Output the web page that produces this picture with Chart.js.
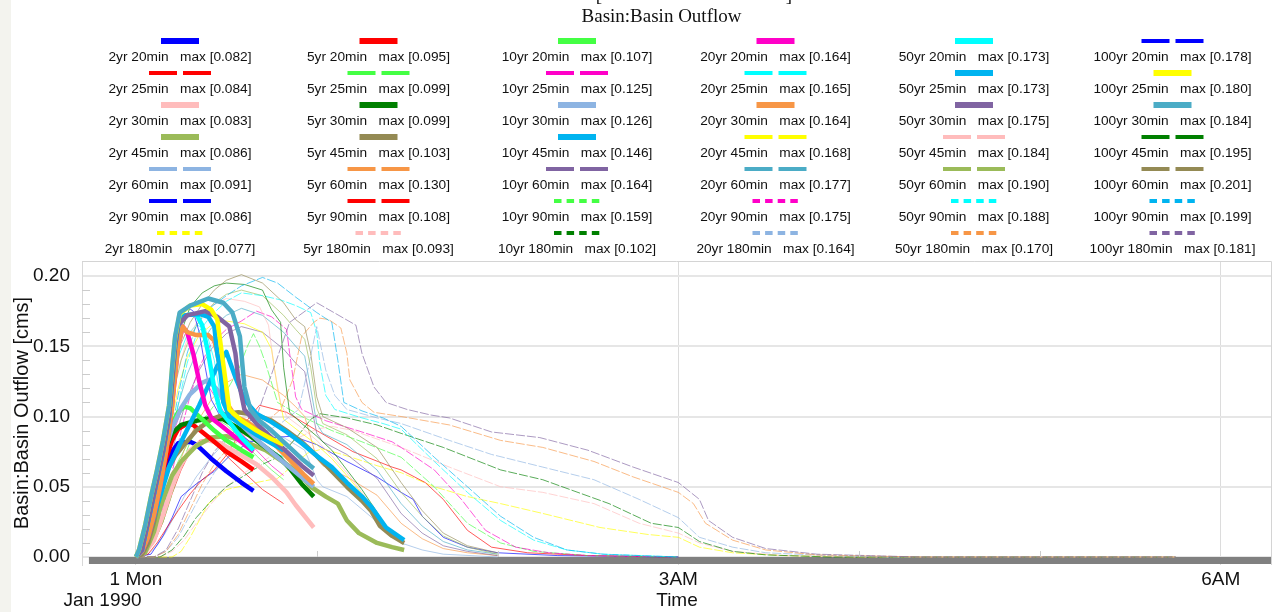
<!DOCTYPE html>
<html lang="en">
<head>
    <meta charset="UTF-8">
    <title>Basin:Basin Outflow</title>
    <script src="https://cdn.jsdelivr.net/npm/chart.js"></script>
    <style>
        html, body {
            margin: 0;
            padding: 0;
        }
        body {
            width: 1273px;
            height: 612px;
            overflow: hidden;
            background: linear-gradient(to right, #f3f3ee 0, #f3f3ee 11px, #ffffff 11px);
        }
        .chart-box {
            position: relative;
            width: 1273px;
            height: 612px;
        }
    </style>
</head>
<body>
    <div class="chart-box">
        <canvas id="outflowChart"></canvas>
    </div>

    <script>
        // storm runs: columns of the legend are return periods, rows are storm durations
        const returnPeriods = ['2yr', '5yr', '10yr', '20yr', '50yr', '100yr'];
        const durations = ['20min', '25min', '30min', '45min', '60min', '90min', '180min'];

        // peak flows as printed in the legend
        const max2yr = ['0.082', '0.084', '0.083', '0.086', '0.091', '0.086', '0.077'];
        const max5yr = ['0.095', '0.099', '0.099', '0.103', '0.130', '0.108', '0.093'];
        const max10yr = ['0.107', '0.125', '0.126', '0.146', '0.164', '0.159', '0.102'];
        const max20yr = ['0.164', '0.165', '0.164', '0.168', '0.177', '0.175', '0.164'];
        const max50yr = ['0.173', '0.173', '0.175', '0.184', '0.190', '0.188', '0.170'];
        const max100yr = ['0.178', '0.180', '0.184', '0.195', '0.201', '0.199', '0.181'];

        // axis ticks (time in minutes after midnight, flow in cms)
        const xTickValues = [0, 180, 360];
        const xTickLabels = ['1 Mon', '3AM', '6AM'];
        const yTickValues = [0, 0.05, 0.10, 0.15, 0.20];

        // outflow hydrographs: [minute, cms]
        const q2yr20 = [[0,0],[2,.002],[4,.01],[6,.025],[8,.045],[10,.062],[12,.075],[14,.081],[18,.082],[20,.08],[22,.076],[25,.07],[30,.061],[35,.053],[39,.047]];
        const q2yr25 = [[0,0],[3,.002],[6,.01],[9,.025],[12,.045],[15,.062],[18,.075],[21,.083],[24,.084],[27,.079],[31,.07],[36,.06],[42,.048],[49,.038]];
        const q2yr30 = [[0,0],[3,.003],[6,.012],[9,.03],[12,.05],[15,.066],[18,.076],[21,.081],[24,.083],[28,.081],[32,.076],[36,.071],[40,.066],[45,.057],[50,.046],[53,.037],[56,.029],[59,.021]];
        const q2yr45 = [[0,0],[3,.003],[6,.018],[8,.035],[12,.058],[15,.068],[20,.079],[25,.085],[30,.086],[35,.083],[43,.076],[50,.066],[54,.06],[58,.05],[63,.043],[67,.038],[70,.026],[74,.017],[80,.01],[85,.007],[89,.005]];
        const q2yr60 = [[0,0],[4,.002],[7,.008],[10,.018],[13,.03],[16,.043],[20,.057],[25,.071],[30,.083],[36,.09],[42,.091],[49,.085],[53,.08],[56,.076],[58,.066],[60,.055],[62,.05],[70,.043],[80,.025],[88,.01],[95,.005],[102,.002],[120,0]];
        const q2yr90 = [[0,0],[5,.002],[9,.015],[12,.028],[15,.043],[20,.052],[26,.061],[32,.074],[38,.082],[45,.085],[52,.086],[60,.08],[70,.068],[80,.057],[88,.046],[92,.041],[95,.029],[102,.014],[110,.007],[120,.003],[140,.001],[180,0]];
        const q2yr180 = [[0,0],[12,0],[15,.004],[18,.014],[21,.026],[24,.038],[30,.048],[40,.053],[47,.056],[52,.065],[57,.074],[62,.077],[70,.072],[80,.065],[88,.06],[99,.05],[110,.043],[121,.038],[135,.031],[154,.021],[170,.016],[180,.014],[187,.007],[198,.003],[215,.001],[240,0],[345,0]];

        const q5yr20 = [[0,0],[2,.003],[4,.012],[6,.03],[8,.052],[10,.07],[12,.083],[14,.091],[17,.095],[19,.094],[22,.089],[26,.082],[30,.075],[35,.068],[39,.062]];
        const q5yr25 = [[0,0],[3,.003],[5,.01],[7,.022],[9,.037],[11,.052],[14,.068],[17,.08],[20,.09],[23,.097],[26,.099],[30,.094],[35,.084],[40,.072],[45,.062],[49,.055]];
        const q5yr30 = [[0,0],[2,.004],[4,.015],[6,.035],[8,.06],[10,.078],[12,.088],[15,.094],[20,.097],[25,.099],[29,.098],[33,.093],[38,.086],[43,.078],[48,.07],[51,.063],[55,.052],[59,.043]];
        const q5yr45 = [[0,0],[2,.002],[4,.01],[6,.025],[8,.045],[10,.06],[13,.072],[16,.08],[20,.09],[25,.098],[30,.102],[34,.103],[40,.101],[45,.097],[50,.09],[55,.082],[60,.072],[65,.061],[70,.05],[75,.04],[78,.033],[81,.022],[85,.015],[89,.01]];
        const q5yr60 = [[0,0],[3,.003],[5,.008],[7,.018],[9,.03],[11,.044],[13,.058],[16,.076],[20,.095],[25,.112],[30,.124],[35,.13],[42,.126],[49,.115],[53,.107],[56,.1],[58,.085],[60,.07],[62,.065],[70,.057],[80,.044],[88,.024],[95,.013],[102,.006],[110,.003],[120,.001]];
        const q5yr90 = [[0,0],[4,.002],[7,.01],[10,.02],[14,.033],[18,.045],[22,.055],[26,.062],[31,.075],[36,.095],[41,.108],[50,.103],[60,.09],[72,.075],[85,.064],[88,.062],[96,.053],[102,.041],[110,.019],[118,.007],[130,.003],[150,.001],[180,0]];
        const q5yr180 = [[0,0],[8,0],[12,.004],[16,.012],[20,.024],[25,.038],[30,.05],[36,.06],[42,.068],[48,.076],[54,.085],[60,.091],[65,.093],[72,.09],[80,.084],[88,.078],[104,.064],[121,.05],[135,.046],[152,.038],[167,.024],[180,.017],[187,.01],[198,.004],[215,.001],[240,0],[345,0]];

        const q10yr20 = [[0,0],[2,.004],[4,.015],[6,.035],[8,.06],[10,.08],[12,.095],[14,.103],[16,.107],[18,.106],[22,.098],[26,.09],[30,.083],[35,.076],[39,.071]];
        const q10yr25 = [[0,0],[2,.003],[4,.012],[6,.028],[8,.048],[10,.068],[12,.086],[15,.104],[18,.116],[21,.123],[23,.125],[26,.115],[30,.1],[35,.088],[40,.076],[45,.065],[49,.058]];
        const q10yr30 = [[0,0],[2,.004],[4,.016],[6,.038],[8,.06],[10,.078],[12,.092],[15,.106],[18,.116],[22,.124],[24,.126],[27,.119],[30,.108],[33,.098],[37,.09],[42,.08],[47,.071],[52,.062],[56,.055],[59,.05]];
        const q10yr45 = [[0,0],[2,.004],[4,.014],[7,.036],[9,.05],[11,.064],[15,.082],[18,.095],[21,.108],[24,.122],[27,.136],[30,.146],[33,.128],[36,.112],[40,.102],[45,.096],[50,.089],[55,.081],[60,.072],[65,.064],[70,.053],[75,.043],[78,.036],[83,.021],[89,.012]];
        const q10yr60 = [[0,0],[2,.002],[4,.009],[6,.02],[8,.036],[10,.055],[12,.074],[14,.092],[17,.113],[21,.133],[25,.148],[30,.159],[35,.164],[42,.16],[49,.148],[53,.138],[56,.132],[58,.11],[60,.088],[62,.082],[70,.073],[80,.056],[88,.031],[95,.017],[102,.008],[110,.004],[120,.001]];
        const q10yr90 = [[0,0],[3,.002],[6,.01],[9,.025],[12,.045],[15,.065],[18,.082],[22,.097],[26,.108],[30,.118],[34,.133],[37,.15],[39,.159],[41,.15],[43,.138],[47,.11],[55,.1],[65,.09],[75,.082],[88,.071],[99,.05],[110,.024],[121,.01],[132,.004],[150,.001],[180,0]];
        const q10yr180 = [[0,0],[8,0],[12,.005],[16,.015],[20,.028],[25,.04],[30,.05],[36,.058],[42,.066],[48,.072],[54,.087],[58,.098],[61,.102],[70,.099],[80,.094],[88,.088],[102,.078],[121,.062],[135,.055],[157,.038],[171,.024],[180,.021],[187,.011],[198,.004],[209,.0015],[230,0],[345,0]];

        const q20yr20 = [[0,0],[2,.004],[4,.014],[6,.03],[8,.05],[10,.075],[11,.09],[12,.108],[13,.13],[14,.15],[15.5,.164],[17,.16],[19,.145],[21,.125],[23,.108],[25,.099],[28,.094],[32,.087],[36,.08],[39,.075]];
        const q20yr25 = [[0,0],[2,.004],[4,.017],[6,.04],[8,.068],[10,.096],[12,.122],[14,.142],[17,.158],[20,.165],[23,.163],[26,.14],[28,.115],[31,.1],[36,.09],[42,.08],[49,.071]];
        const q20yr30 = [[0,0],[2,.004],[4,.014],[6,.03],[8,.05],[10,.075],[11,.09],[12,.108],[13,.13],[14,.15],[15.5,.164],[17,.16],[20,.158],[24,.158],[26,.154],[27,.145],[28,.133],[29,.121],[30,.11],[33,.1],[37,.096],[42,.088],[47,.078],[52,.067],[56,.058],[59,.052]];
        const q20yr45 = [[0,0],[2,.003],[4,.013],[6,.03],[8,.05],[10,.074],[12,.098],[14,.12],[17,.142],[21,.158],[25,.165],[30,.168],[36,.166],[42,.16],[45,.148],[47,.12],[49,.098],[55,.088],[60,.08],[65,.07],[70,.058],[75,.045],[80,.031],[84,.02],[89,.012]];
        const q20yr60 = [[0,0],[2,.003],[4,.012],[6,.026],[8,.045],[10,.066],[12,.088],[14,.108],[17,.13],[21,.15],[25,.163],[30,.172],[35,.177],[42,.172],[49,.16],[53,.15],[56,.143],[58,.12],[60,.095],[62,.088],[70,.08],[80,.062],[88,.038],[95,.022],[102,.011],[110,.005],[120,.002]];
        const q20yr90 = [[0,0],[3,.003],[6,.015],[9,.035],[12,.06],[15,.09],[18,.115],[21,.135],[25,.152],[30,.162],[35,.168],[40,.175],[45,.171],[50,.162],[51,.145],[53,.114],[55,.105],[63,.097],[75,.089],[85,.082],[88,.078],[99,.062],[108,.041],[116,.019],[126,.007],[137,.003],[150,.001],[180,0]];
        const q20yr180 = [[0,0],[6,0],[10,.004],[14,.014],[18,.03],[22,.046],[26,.06],[30,.07],[36,.08],[42,.088],[48,.095],[54,.105],[57,.133],[60,.164],[63,.133],[66,.115],[70,.105],[80,.099],[88,.095],[104,.083],[118,.073],[135,.064],[152,.055],[167,.041],[180,.028],[187,.014],[198,.007],[209,.003],[230,.001],[250,0],[345,0]];

        const q50yr20 = [[0,0],[2,.005],[5,.035],[7,.055],[9,.075],[11,.1],[12,.125],[13,.15],[14,.165],[16,.172],[20,.173],[22,.165],[24,.145],[26,.12],[28,.104],[31,.096],[35,.085],[39,.076]];
        const q50yr25 = [[0,0],[2,.005],[5,.035],[7,.055],[9,.075],[11,.1],[12,.125],[13,.15],[14,.165],[16,.172],[21,.173],[24,.171],[26,.164],[27,.145],[28,.133],[29,.11],[31,.1],[35,.094],[40,.087],[45,.081],[49,.076]];
        const q50yr30 = [[0,0],[2,.005],[5,.035],[7,.055],[9,.075],[11,.1],[12,.125],[13,.15],[14,.165],[17,.172],[23,.175],[27,.171],[31,.164],[33,.145],[34,.126],[36,.105],[40,.095],[45,.085],[50,.075],[55,.065],[59,.058]];
        const q50yr45 = [[0,0],[2,.004],[4,.016],[6,.036],[8,.058],[10,.084],[12,.11],[14,.133],[17,.155],[21,.17],[25,.179],[30,.184],[36,.182],[41,.178],[44,.165],[46,.133],[48,.11],[50,.1],[55,.092],[60,.083],[65,.072],[70,.06],[75,.046],[80,.031],[84,.019],[89,.01]];
        const q50yr60 = [[0,0],[1,.003],[3,.016],[5,.034],[7,.054],[9,.077],[11,.1],[13,.122],[15,.14],[18,.157],[22,.171],[26,.181],[30,.187],[35,.19],[42,.186],[49,.172],[53,.162],[56,.155],[58,.135],[60,.106],[62,.095],[70,.087],[80,.07],[88,.046],[95,.029],[102,.015],[110,.007],[120,.002]];
        const q50yr90 = [[0,0],[2,.003],[5,.017],[8,.042],[11,.075],[14,.108],[17,.138],[20,.158],[25,.172],[30,.182],[35,.188],[42,.186],[48,.183],[53,.179],[58,.174],[60,.16],[61,.138],[63,.115],[66,.105],[75,.099],[82,.095],[88,.091],[99,.068],[110,.046],[121,.026],[132,.012],[143,.005],[155,.002],[180,0]];
        const q50yr180 = [[0,0],[6,0],[10,.004],[14,.016],[18,.034],[22,.052],[26,.066],[30,.076],[36,.086],[42,.094],[48,.105],[52,.126],[55,.157],[59,.167],[61,.17],[64,.169],[68,.163],[70,.145],[71,.126],[75,.11],[79,.103],[88,.1],[104,.094],[121,.083],[135,.078],[152,.068],[165,.057],[180,.046],[185,.038],[189,.024],[198,.012],[209,.005],[226,.0015],[260,0],[345,0]];

        const q100yr20 = [[0,0],[1,.005],[3,.022],[5,.042],[7,.062],[9,.083],[11,.108],[12,.133],[13,.155],[15,.172],[17,.178],[19,.175],[21,.16],[23,.135],[25,.112],[28,.1],[32,.092],[36,.085],[40,.079]];
        const q100yr25 = [[0,0],[1,.005],[3,.022],[5,.043],[7,.062],[9,.083],[11,.108],[12,.134],[13,.156],[14.5,.173],[18,.179],[22,.18],[25,.176],[27,.169],[28.5,.145],[30,.121],[31,.105],[35,.097],[40,.09],[45,.084],[49,.08]];
        const q100yr30 = [[0,0],[1,.005],[3,.022],[5,.043],[7,.062],[9,.083],[11,.108],[12,.135],[13,.157],[14.5,.174],[18,.179],[24,.184],[29,.181],[32,.174],[34.5,.157],[36,.121],[38,.105],[41,.097],[45,.09],[50,.08],[55,.07],[59,.063]];
        const q100yr45 = [[0,0],[1,.004],[3,.018],[5,.038],[7,.06],[9,.085],[11,.11],[13,.14],[15,.16],[18,.178],[22,.188],[26,.193],[30,.195],[36,.194],[42,.19],[45,.176],[48,.167],[49,.135],[51,.103],[55,.095],[60,.086],[65,.076],[70,.062],[75,.048],[80,.032],[84,.018],[89,.009]];
        const q100yr60 = [[0,0],[1,.004],[3,.02],[5,.04],[7,.06],[9,.085],[11,.11],[13,.135],[15,.152],[18,.167],[22,.18],[26,.19],[30,.197],[35,.201],[42,.195],[49,.181],[53,.169],[56,.164],[58,.145],[60,.114],[62,.1],[70,.092],[80,.078],[88,.053],[95,.033],[102,.017],[110,.008],[118,.004],[120,.003]];
        const q100yr90 = [[0,0],[2,.003],[5,.018],[8,.045],[11,.08],[14,.115],[17,.145],[20,.165],[25,.178],[30,.186],[35,.193],[42,.199],[47,.195],[53,.185],[60,.174],[65,.167],[67,.14],[69,.11],[75,.104],[82,.099],[88,.093],[99,.071],[110,.05],[121,.029],[132,.014],[143,.005],[155,.002],[180,0]];
        const q100yr180 = [[0,0],[6,0],[10,.005],[14,.02],[18,.04],[22,.06],[26,.075],[30,.085],[35,.093],[40,.1],[45,.13],[51,.167],[60,.181],[73,.165],[75,.145],[79,.121],[83,.11],[90,.105],[98,.101],[104,.099],[118,.089],[134,.085],[150,.076],[165,.064],[180,.053],[187,.041],[190,.026],[198,.014],[209,.006],[226,.002],[260,0],[345,0]];

        // grey base band under the zero line
        const baselineSpan = [-15.6, 380];
        const baselineLevel = -0.0025;

        const runs = [
            [q2yr20, q2yr25, q2yr30, q2yr45, q2yr60, q2yr90, q2yr180],
            [q5yr20, q5yr25, q5yr30, q5yr45, q5yr60, q5yr90, q5yr180],
            [q10yr20, q10yr25, q10yr30, q10yr45, q10yr60, q10yr90, q10yr180],
            [q20yr20, q20yr25, q20yr30, q20yr45, q20yr60, q20yr90, q20yr180],
            [q50yr20, q50yr25, q50yr30, q50yr45, q50yr60, q50yr90, q50yr180],
            [q100yr20, q100yr25, q100yr30, q100yr45, q100yr60, q100yr90, q100yr180]
        ];
        const maxLabels = [max2yr, max5yr, max10yr, max20yr, max50yr, max100yr];

        // styles
        const hue = {
            blue: '#0000ff', red: '#ff0000', pink: '#ffbcbc', olive: '#9bbb59', sky: '#8db4e2',
            yellow: '#ffff00', lime: '#44ff44', green: '#008000', khaki: '#948a54', orange: '#f79646',
            magenta: '#ff00c8', azure: '#00b4f0', purple: '#8064a2', cyan: '#00ffff', teal: '#4bacc6'
        };
        const lineColors = [
            ['blue', 'red', 'pink', 'olive', 'sky', 'blue', 'yellow'],
            ['red', 'lime', 'green', 'khaki', 'orange', 'red', 'pink'],
            ['lime', 'magenta', 'sky', 'azure', 'purple', 'lime', 'green'],
            ['magenta', 'cyan', 'orange', 'yellow', 'teal', 'magenta', 'sky'],
            ['cyan', 'azure', 'purple', 'pink', 'olive', 'cyan', 'orange'],
            ['blue', 'yellow', 'teal', 'green', 'khaki', 'azure', 'purple']
        ];
        const lineKinds = [
            ['solid', 'dash', 'solid', 'solid', 'dash', 'dash', 'dot'],
            ['solid', 'dash', 'solid', 'solid', 'dash', 'dash', 'dot'],
            ['solid', 'dash', 'solid', 'solid', 'dash', 'dot', 'dot'],
            ['solid', 'dash', 'solid', 'dash', 'dash', 'dot', 'dot'],
            ['solid', 'solid', 'solid', 'dash', 'dash', 'dot', 'dot'],
            ['dash', 'solid', 'solid', 'dash', 'dash', 'dot', 'dot']
        ];

        const SANS = '"Liberation Sans", Arial, sans-serif';
        const SERIF = '"Liberation Serif", "Times New Roman", serif';

        function fade(hex, a) {
            const n = parseInt(hex.slice(1), 16);
            return `rgba(${n >> 16}, ${(n >> 8) & 255}, ${n & 255}, ${a})`;
        }

        // datasets in legend order (column by column)
        const datasets = [];
        returnPeriods.forEach((rp, c) => {
            durations.forEach((dur, r) => {
                const kind = lineKinds[c][r];
                const color = hue[lineColors[c][r]];
                const idx = c * durations.length + r;
                datasets.push({
                    label: `${rp} ${dur}   max [${maxLabels[c][r]}]`,
                    data: runs[c][r].map(([t, q]) => ({ x: t, y: q })),
                    borderColor: kind === 'solid' ? color : fade(color, 0.65),
                    borderWidth: kind === 'solid' ? 4.5 : 1,
                    borderDash: kind === 'dot' ? [9, 2] : [],
                    borderJoinStyle: 'round',
                    pointRadius: 0,
                    tension: 0,
                    fill: false,
                    order: (kind === 'solid' ? 0 : 100) + (60 - idx),
                    sampleColor: color,
                    legendKind: kind
                });
            });
        });
        datasets.push({
            label: 'base',
            data: baselineSpan.map(t => ({ x: t, y: baselineLevel })),
            borderColor: '#808080',
            borderWidth: 7,
            pointRadius: 0,
            order: 1000
        });

        // legend above the plot: sample line on top, text underneath
        const stormLegend = {
            id: 'stormLegend',
            afterDraw(chart) {
                const ctx = chart.ctx;
                ctx.save();
                ctx.font = '13.7px ' + SANS;
                ctx.textAlign = 'center';
                ctx.textBaseline = 'middle';
                chart.data.datasets.forEach((ds, i) => {
                    if (!ds.legendKind) return;
                    const col = Math.floor(i / durations.length);
                    const row = i % durations.length;
                    const cx = 180 + col * 198.5;
                    const sy = 41 + row * 32;
                    ctx.fillStyle = ds.sampleColor;
                    if (ds.legendKind === 'solid') {
                        ctx.fillRect(cx - 19, sy - 3, 38, 6);
                    } else if (ds.legendKind === 'dash') {
                        ctx.fillRect(cx - 31, sy - 2, 28, 4);
                        ctx.fillRect(cx + 3, sy - 2, 28, 4);
                    } else {
                        for (let k = 0; k < 4; k++) ctx.fillRect(cx - 23 + k * 12.6, sy - 2, 7.5, 4);
                    }
                    ctx.fillStyle = '#111';
                    ctx.fillText(ds.label, cx, sy + 16);
                });
                ctx.restore();
            }
        };

        // frame, minor ticks and the extra texts
        const frameExtras = {
            id: 'frameExtras',
            afterDraw(chart) {
                const { ctx, chartArea: a, scales: { x, y } } = chart;
                ctx.save();
                ctx.strokeStyle = '#d4d4d4';
                ctx.lineWidth = 1;
                ctx.beginPath();
                ctx.moveTo(a.left, a.top + 0.5);
                ctx.lineTo(a.right - 0.5, a.top + 0.5);
                ctx.lineTo(a.right - 0.5, a.bottom);
                ctx.stroke();

                ctx.strokeStyle = '#cccccc';
                ctx.beginPath();
                for (let k = 1; k < 20; k++) {
                    if (k % 5 === 0) continue;
                    const py = Math.round(y.getPixelForValue(k / 100)) + 0.5;
                    ctx.moveTo(a.left, py);
                    ctx.lineTo(a.left + 8, py);
                }
                [60, 120, 240, 300].forEach(m => {
                    const px = Math.round(x.getPixelForValue(m)) + 0.5;
                    const p0 = y.getPixelForValue(0);
                    ctx.moveTo(px, p0 - 6);
                    ctx.lineTo(px, p0);
                });
                ctx.stroke();

                ctx.fillStyle = '#111';
                ctx.font = '19px ' + SANS;
                ctx.textAlign = 'center';
                ctx.textBaseline = 'middle';
                ctx.fillText('Jan 1990', 102.5, 601);

                ctx.font = '19px ' + SERIF;
                ctx.fillText('Basin:Basin Outflow', 661.5, 17);
                ctx.textBaseline = 'alphabetic';
                ctx.fillText('[', 599, 0.5);
                ctx.fillText(']', 789, 0.5);
                ctx.restore();
            }
        };

        new Chart(document.getElementById('outflowChart'), {
            type: 'line',
            data: { datasets },
            options: {
                responsive: true,
                maintainAspectRatio: false,
                animation: false,
                events: [],
                layout: { padding: { top: 261, right: 1, left: 0, bottom: 0 } },
                plugins: {
                    legend: { display: false },
                    title: { display: false },
                    tooltip: { enabled: false }
                },
                scales: {
                    x: {
                        type: 'linear',
                        min: -17.9,
                        max: 377,
                        afterBuildTicks: s => { s.ticks = xTickValues.map(v => ({ value: v })); },
                        afterFit: s => { s.height = 47; },
                        grid: { color: '#dcdcdc', lineWidth: 1, drawTicks: false },
                        border: { display: false },
                        ticks: {
                            autoSkip: false,
                            maxRotation: 0,
                            padding: 3,
                            color: '#111',
                            font: { size: 19, family: SANS },
                            callback: (v, i) => xTickLabels[i]
                        },
                        title: {
                            display: true,
                            text: 'Time',
                            color: '#111',
                            font: { size: 19, family: SANS },
                            padding: { top: 0, bottom: 0 }
                        }
                    },
                    y: {
                        min: -0.0057,
                        max: 0.2107,
                        afterBuildTicks: s => { s.ticks = yTickValues.map(v => ({ value: v })); },
                        afterFit: s => { s.width = 82; },
                        grid: { color: '#e6e6e6', lineWidth: 2, drawTicks: false },
                        border: { display: true, color: '#d8d8d8' },
                        ticks: {
                            padding: 12,
                            color: '#111',
                            font: { size: 19, family: SANS },
                            callback: v => v.toFixed(2)
                        },
                        title: {
                            display: true,
                            text: 'Basin:Basin Outflow [cms]',
                            color: '#111',
                            font: { size: 20, family: SANS },
                            padding: { top: 10, bottom: 0 }
                        }
                    }
                }
            },
            plugins: [stormLegend, frameExtras]
        });
    </script>
</body>
</html>
